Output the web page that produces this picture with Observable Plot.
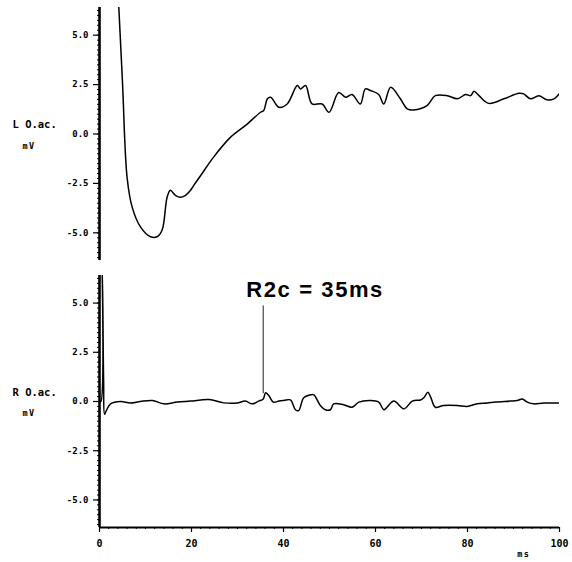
<!DOCTYPE html>
<html><head><meta charset="utf-8">
<script src="https://cdn.jsdelivr.net/npm/d3@7"></script>
<script src="https://cdn.jsdelivr.net/npm/@observablehq/plot@0.6"></script>
<style>
body{margin:0;background:#fff}
#chart{position:relative;width:572px;height:562px;background:#fff}
#chart svg{display:block}
</style></head><body><div id="chart"></div>
<script>
// ---- data ----
const topMs = [3.8, 4.2, 5.0, 6.0, 7.1, 8.9, 11.1, 12.5, 13.6, 14.7, 15.4, 16.5, 17.6, 18.7, 19.8, 20.5, 22, 24.8, 28.5, 32.1, 35, 35.7, 36.5, 37.2, 39, 40.8, 43, 43.7, 44.8, 46.2, 48.4, 49.9, 52, 53.5, 54.9, 56.7, 57.8, 58.9, 60.7, 61.8, 63.3, 65.4, 66.9, 68.3, 71.2, 73, 75.6, 77.8, 79.6, 80.7, 81.4, 82.5, 84.6, 87.9, 91.2, 92.2, 93.7, 95.5, 97.3, 98.8, 99.9];
const topMv = [8, 6.4, 2.6, -2.2, -3.7, -4.7, -5.2, -5.2, -4.87, -3.2, -2.85, -3.1, -3.2, -3.1, -2.85, -2.6, -2.1, -1.17, -0.16, 0.5, 1.1, 1.19, 1.78, 1.86, 1.35, 1.52, 2.45, 2.28, 2.45, 1.52, 1.52, 1.1, 2.1, 1.86, 2.0, 1.52, 2.28, 2.2, 2.0, 1.52, 2.36, 1.78, 1.27, 1.22, 1.44, 1.94, 1.94, 1.78, 2.0, 1.94, 2.16, 1.94, 1.55, 1.78, 2.06, 2.03, 1.78, 1.94, 1.73, 1.78, 2.03];
const botMs = [0, 0.3, 0.6, 0.9, 1.1, 1.5, 2.4, 4.6, 6.7, 8.9, 11.5, 14, 16.9, 19.8, 23.8, 27, 29.9, 31.7, 33.2, 34.6, 35.6, 36.1, 36.8, 37.8, 39, 40.1, 41.5, 42.6, 43.3, 44.4, 45.9, 46.6, 48, 49.1, 50.2, 50.9, 53.1, 54.9, 56.4, 58.9, 60.7, 61.8, 62.5, 64, 66.2, 68, 69.8, 70.5, 71.4, 72, 73, 74.8, 77.8, 79.9, 82.1, 84.3, 86.1, 89.3, 90.8, 91.9, 93, 94.4, 96.6, 100];
const botMv = [0, 0, 6.8, 1.0, -0.65, -0.45, -0.12, 0, -0.08, 0, 0.05, -0.12, -0.03, 0.02, 0.1, -0.07, -0.08, 0.02, -0.12, 0.02, 0.13, 0.44, 0.3, -0.03, 0.02, 0.05, 0.08, -0.42, -0.46, 0.19, 0.34, 0.34, -0.2, -0.42, -0.42, -0.12, -0.17, -0.29, -0.03, 0.05, -0.03, -0.42, -0.29, 0.02, -0.37, 0.02, 0.08, 0.19, 0.47, 0.22, -0.29, -0.2, -0.2, -0.25, -0.12, -0.08, -0.03, 0.02, 0.05, 0.13, -0.03, -0.12, -0.08, -0.07];

const xDomain = [0, 100];
const yDomain = [-6.4, 6.4];
const yTicks = [-5, -2.5, 0, 2.5, 5];
const yMinor = d3.range(-6.25, 6.3, 0.25);
const xTicks = [0, 20, 40, 60, 80, 100];
const xMinor = d3.range(0, 100.1, 2);
const topLabel = ["L O.ac.", "mV"];
const botLabel = ["R O.ac.", "mV"];
const xUnit = "ms";
const markerMs = 35.6;
const markerTop = 4.85;
const markerBottom = 0.4;
const markerText = "R2c = 35ms";
const markerTextY = 5.65;

const topData = topMs.map((x, i) => ({x, y: topMv[i]}));
const botData = botMs.map((x, i) => ({x, y: botMv[i]}));

const axisFont = {fontFamily: "DejaVu Sans Mono", fontSize: 9, fontWeight: "bold"};

function yAxisMarks(labels) {
  return [
    Plot.axisY(yMinor, {tickSize: 2, tickFormat: () => "", label: null, strokeWidth: 1}),
    Plot.axisY(yTicks, {tickSize: 6, tickPadding: 5, tickFormat: d => d.toFixed(1), label: null, strokeWidth: 1.2, ...axisFont}),
    Plot.ruleX([xDomain[0]], {stroke: "#000", strokeWidth: 2.6}),
    Plot.text([labels[0]], {frameAnchor: "left", dx: -87, dy: -9, textAnchor: "start", ...axisFont, fontSize: 10.5}),
    Plot.text([labels[1]], {frameAnchor: "left", dx: -77, dy: 12, textAnchor: "start", ...axisFont, fontSize: 8.5})
  ];
}

const common = {
  width: 572,
  marginLeft: 99,
  marginRight: 13,
  style: {background: "#fff", color: "#000", fontFamily: "DejaVu Sans Mono"}
};

const topPlot = Plot.plot({
  ...common,
  height: 268,
  marginTop: 7,
  marginBottom: 8,
  x: {domain: xDomain, axis: null},
  y: {domain: yDomain},
  marks: [
    ...yAxisMarks(topLabel),
    Plot.line(topData, {x: "x", y: "y", stroke: "#000", strokeWidth: 1.5, curve: "catmull-rom", clip: true})
  ]
});

const botPlot = Plot.plot({
  ...common,
  height: 294,
  marginTop: 7,
  marginBottom: 35,
  x: {domain: xDomain},
  y: {domain: yDomain},
  marks: [
    ...yAxisMarks(botLabel),
    Plot.axisX(xMinor, {tickSize: 2, tickFormat: () => "", label: null, strokeWidth: 1}),
    Plot.axisX(xTicks, {tickSize: 5, tickPadding: 7, tickFormat: d => String(d), label: null, strokeWidth: 1.2, ...axisFont, fontSize: 10}),
    Plot.ruleY([yDomain[0]], {stroke: "#000", strokeWidth: 2.2}),
    Plot.text([xUnit], {frameAnchor: "bottom-right", dx: -29, dy: 29, ...axisFont, fontSize: 8.5}),
    Plot.line(botData, {x: "x", y: "y", stroke: "#000", strokeWidth: 1.5, curve: "catmull-rom", clip: true}),
    Plot.ruleX([markerMs], {y1: markerTop, y2: markerBottom, stroke: "#555", strokeWidth: 1.3}),
    Plot.text([markerText], {x: () => markerMs, y: () => markerTextY, text: d => d, textAnchor: "start", dx: -17,
      fontFamily: "Liberation Sans, Arial, sans-serif", fontSize: 22, fontWeight: "bold", fill: "#000"})
  ]
});

// letter spacing for the wide annotation and the dot-matrix labels
botPlot.querySelectorAll("text").forEach(t => {
  if (t.textContent === markerText) t.setAttribute("letter-spacing", "1.6");
});
[topPlot, botPlot].forEach(p => p.querySelectorAll("text").forEach(t => {
  if (t.textContent === "mV" || t.textContent === xUnit) t.setAttribute("letter-spacing", "1.5");
}));

const chart = document.getElementById("chart");
chart.appendChild(topPlot);
chart.appendChild(botPlot);
</script></body></html>
